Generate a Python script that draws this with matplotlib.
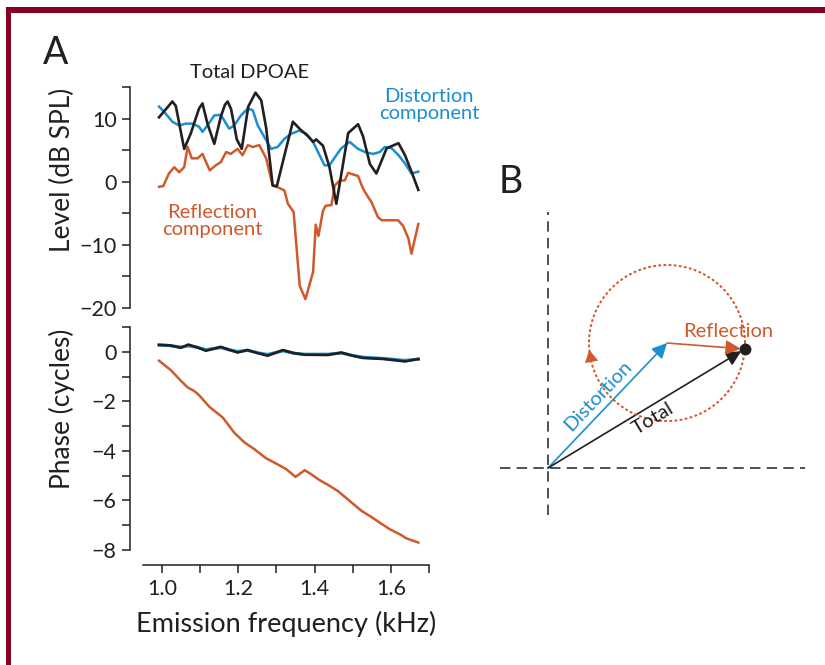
import matplotlib

matplotlib.use("Agg")
import matplotlib.pyplot as plt
import numpy as np
from matplotlib.patches import Rectangle, FancyArrowPatch
from matplotlib.ticker import FixedLocator, FormatStrFormatter

plt.rcParams["font.family"] = ["Lato", "DejaVu Sans"]
plt.rcParams["axes.unicode_minus"] = True
plt.rcParams["lines.scale_dashes"] = False

BLACK = "#231f20"
BLUE = "#1a8ed1"
ORANGE = "#d0592b"
FRAME = "#870024"

# --- panel A: level (dB SPL) vs emission frequency (kHz) ---
f_total = [0.992, 1.027, 1.036, 1.058, 1.075, 1.097, 1.106, 1.119, 1.137, 1.154,
           1.165, 1.172, 1.181, 1.196, 1.209, 1.226, 1.245, 1.260, 1.273, 1.290,
           1.301, 1.321, 1.343, 1.362, 1.383, 1.396, 1.404, 1.422, 1.439, 1.457,
           1.474, 1.488, 1.514, 1.527, 1.545, 1.562, 1.589, 1.620, 1.637, 1.654, 1.672]
lvl_total = [10.2, 12.7, 12.0, 5.2, 7.6, 11.6, 12.4, 9.2, 6.0, 10.3,
             12.2, 12.7, 11.5, 6.7, 5.2, 11.9, 14.1, 12.9, 8.5, -0.6,
             -0.7, 4.2, 9.5, 8.3, 7.2, 6.3, 6.7, 5.7, 2.3, -3.5,
             2.6, 7.7, 9.1, 7.2, 2.8, 1.3, 5.3, 6.1, 4.2, 1.6, -1.3]

f_dist = [0.992, 1.005, 1.027, 1.045, 1.062, 1.080, 1.097, 1.106, 1.119, 1.137,
          1.154, 1.176, 1.189, 1.207, 1.225, 1.238, 1.251, 1.268, 1.286, 1.303,
          1.321, 1.339, 1.360, 1.378, 1.396, 1.413, 1.426, 1.439, 1.457, 1.470,
          1.492, 1.514, 1.532, 1.553, 1.571, 1.584, 1.602, 1.620, 1.637, 1.654, 1.672]
lvl_dist = [11.9, 11.1, 9.5, 8.9, 9.2, 9.2, 8.7, 7.9, 8.9, 10.5,
            10.6, 8.4, 8.9, 10.5, 11.6, 11.3, 8.9, 7.1, 5.2, 5.5,
            6.8, 7.6, 8.1, 7.6, 6.3, 4.2, 2.6, 2.6, 4.2, 5.3,
            6.3, 5.2, 4.7, 4.4, 4.7, 5.5, 5.3, 4.2, 2.9, 1.3, 1.6]

f_refl = [0.992, 1.003, 1.018, 1.032, 1.045, 1.058, 1.067, 1.078, 1.093, 1.106,
          1.125, 1.141, 1.154, 1.168, 1.180, 1.198, 1.211, 1.225, 1.238, 1.255,
          1.273, 1.290, 1.308, 1.321, 1.330, 1.345, 1.361, 1.376, 1.396, 1.403,
          1.410, 1.422, 1.429, 1.444, 1.453, 1.466, 1.479, 1.488, 1.514, 1.527,
          1.540, 1.549, 1.566, 1.576, 1.619, 1.632, 1.646, 1.654, 1.672]
lvl_refl = [-0.8, -0.7, 1.3, 2.3, 1.5, 2.3, 5.5, 3.7, 3.7, 4.4,
            1.8, 2.6, 3.1, 4.7, 4.4, 5.2, 4.2, 5.8, 5.5, 5.8,
            3.7, -0.6, -1.0, -1.4, -3.5, -4.8, -16.5, -18.6, -14.3, -6.8,
            -8.6, -4.6, -3.8, -3.7, -0.6, 0.2, 0.2, 1.4, 0.9, -1.1,
            -2.4, -3.2, -5.6, -6.1, -6.1, -7.0, -9.0, -11.4, -6.7]

# --- panel A: phase (cycles) ---
f_ph = [0.992, 1.020, 1.049, 1.069, 1.092, 1.115, 1.154, 1.176, 1.198, 1.224,
        1.250, 1.277, 1.317, 1.345, 1.374, 1.435, 1.470, 1.500, 1.527, 1.580,
        1.637, 1.672]
ph_total = [0.28, 0.26, 0.16, 0.29, 0.18, 0.04, 0.20, 0.08, -0.03, 0.07,
            -0.05, -0.16, 0.07, -0.05, -0.12, -0.13, -0.03, -0.16, -0.25, -0.29,
            -0.39, -0.29]
ph_dist = [0.27, 0.25, 0.19, 0.24, 0.18, 0.08, 0.17, 0.08, 0.01, 0.06,
           -0.04, -0.11, 0.04, -0.06, -0.10, -0.10, -0.05, -0.15, -0.22, -0.27,
           -0.35, -0.30]

f_ph_refl = [0.992, 1.023, 1.045, 1.067, 1.084, 1.097, 1.124, 1.159, 1.189, 1.216,
             1.242, 1.273, 1.299, 1.326, 1.350, 1.374, 1.391, 1.413, 1.435, 1.461,
             1.492, 1.523, 1.549, 1.571, 1.597, 1.624, 1.641, 1.672]
ph_refl = [-0.36, -0.74, -1.10, -1.44, -1.58, -1.75, -2.22, -2.65, -3.26, -3.66,
           -3.93, -4.30, -4.51, -4.74, -5.05, -4.78, -4.94, -5.18, -5.37, -5.62,
           -6.02, -6.42, -6.67, -6.90, -7.16, -7.37, -7.53, -7.70]

# --- panel B: phasor schematic (amplitude, angle in degrees) ---
dist_amp, dist_ang = 1.0, 46.4
refl_amp, refl_ang = 0.452, -4.4

W, H = 825, 665
fig = plt.figure(figsize=(W / 100, H / 100), dpi=100)


def px_axes(x0, y0, x1, y1):
    return fig.add_axes([x0 / W, 1 - y1 / H, (x1 - x0) / W, (y1 - y0) / H])


# frame
fig.patches.append(Rectangle((7 / W, 1 - 13 / H), 1, 6 / H, transform=fig.transFigure,
                             facecolor=FRAME, edgecolor="none"))
fig.patches.append(Rectangle((6 / W, 0), 4.5 / W, 1 - 7 / H, transform=fig.transFigure,
                             facecolor=FRAME, edgecolor="none"))

ax_lvl = px_axes(143, 87, 429, 308)
ax_ph = px_axes(143, 327, 429, 550)

tick_kw = dict(direction="out", length=6, width=1.1, color=BLACK, labelcolor=BLACK)
for ax in (ax_lvl, ax_ph):
    ax.set_xlim(0.95, 1.7)
    ax.patch.set_alpha(0)
    for s in ("top", "right"):
        ax.spines[s].set_visible(False)
    ax.spines["left"].set_position(("outward", 9.5))
    ax.spines["left"].set_linewidth(1.1)
    ax.spines["left"].set_color(BLACK)
    ax.tick_params(axis="y", which="both", labelsize=15.5, pad=3.5, **tick_kw)

ax_lvl.spines["bottom"].set_visible(False)
ax_lvl.tick_params(axis="x", which="both", bottom=False, labelbottom=False)
ax_lvl.set_ylim(-20, 15)
ax_lvl.yaxis.set_major_locator(FixedLocator([-20, -10, 0, 10]))
ax_lvl.yaxis.set_minor_locator(FixedLocator([-15, -5, 5, 15]))

ax_lvl.plot(f_refl, lvl_refl, color=ORANGE, lw=1.8)
ax_lvl.plot(f_dist, lvl_dist, color=BLUE, lw=1.8)
ax_lvl.plot(f_total, lvl_total, color=BLACK, lw=1.9)

ax_ph.set_ylim(-8, 1)
ax_ph.yaxis.set_major_locator(FixedLocator([-8, -6, -4, -2, 0]))
ax_ph.yaxis.set_minor_locator(FixedLocator([-7, -5, -3, -1, 1]))
ax_ph.xaxis.set_major_locator(FixedLocator([1.0, 1.2, 1.4, 1.6]))
ax_ph.xaxis.set_minor_locator(FixedLocator([1.1, 1.3, 1.5, 1.7]))
ax_ph.xaxis.set_major_formatter(FormatStrFormatter("%.1f"))
ax_ph.spines["bottom"].set_position(("outward", 11))
ax_ph.spines["bottom"].set_linewidth(1.1)
ax_ph.spines["bottom"].set_color(BLACK)
ax_ph.tick_params(axis="x", which="both", labelsize=15.5, pad=4, **tick_kw)

ax_ph.plot(f_ph_refl, ph_refl, color=ORANGE, lw=1.8)
ax_ph.plot(f_ph, ph_dist, color=BLUE, lw=2.3)
ax_ph.plot(f_ph, ph_total, color=BLACK, lw=1.9)

fig.text(62 / W, 1 - 170 / H, "Level (dB SPL)", rotation=90, ha="center", va="center",
         fontsize=19, color=BLACK)
fig.text(62 / W, 1 - 409 / H, "Phase (cycles)", rotation=90, ha="center", va="center",
         fontsize=19, color=BLACK)
fig.text(286 / W, 1 - 624 / H, "Emission frequency (kHz)", ha="center", va="center",
         fontsize=19.5, color=BLACK)

fig.text(250 / W, 1 - 73 / H, "Total DPOAE", ha="center", va="center", fontsize=14.5, color=BLACK)
fig.text(429 / W, 1 - 105 / H, "Distortion\ncomponent", ha="center", va="center",
         fontsize=14.5, color=BLUE, linespacing=0.95)
fig.text(212 / W, 1 - 221 / H, "Reflection\ncomponent", ha="center", va="center",
         fontsize=14.5, color=ORANGE, linespacing=0.95)

fig.text(56 / W, 1 - 53 / H, "A", ha="center", va="center", fontsize=27, color=BLACK)
fig.text(511 / W, 1 - 182 / H, "B", ha="center", va="center", fontsize=27, color=BLACK)

# --- panel B ---
axb = px_axes(500, 212, 805, 515)
axb.set_xlim(-0.278, 1.489)
axb.set_ylim(-0.272, 1.483)
axb.set_aspect("equal")
axb.axis("off")
axb.axhline(0, color=BLACK, lw=1.1, ls=(0, (7.5, 4.5)))
axb.axvline(0, color=BLACK, lw=1.1, ls=(0, (7.5, 4.5)))

d = dist_amp * np.array([np.cos(np.radians(dist_ang)), np.sin(np.radians(dist_ang))])
r = refl_amp * np.array([np.cos(np.radians(refl_ang)), np.sin(np.radians(refl_ang))])
t = d + r

# reflection phasor sweeping around the tip of the distortion phasor
theta = np.linspace(0, 2 * np.pi, 400)
axb.plot(d[0] + refl_amp * np.cos(theta), d[1] + refl_amp * np.sin(theta),
         color=ORANGE, lw=1.4, ls=(0, (2.0, 1.7)))
a0, a1 = np.radians(196), np.radians(185)
p0 = d + refl_amp * np.array([np.cos(a0), np.sin(a0)])
p1 = d + refl_amp * np.array([np.cos(a1), np.sin(a1)])
axb.add_patch(FancyArrowPatch(p0, p1, arrowstyle="-|>,head_length=0.55,head_width=0.3",
                              mutation_scale=16, color=ORANGE, lw=0, shrinkA=0, shrinkB=0))

arrow = "-|>,head_length=0.6,head_width=0.3"
axb.add_patch(FancyArrowPatch((0, 0), tuple(d), arrowstyle=arrow, mutation_scale=15,
                              color=BLUE, lw=1.2, shrinkA=0, shrinkB=0))
axb.add_patch(FancyArrowPatch((0, 0), tuple(t), arrowstyle=arrow, mutation_scale=15,
                              color=BLACK, lw=1.2, shrinkA=0, shrinkB=3))
axb.add_patch(FancyArrowPatch(tuple(d), tuple(t), arrowstyle=arrow, mutation_scale=15,
                              color=ORANGE, lw=1.2, shrinkA=0, shrinkB=3))
axb.plot(t[0], t[1], "o", color=BLACK, ms=7.5, zorder=5)

axb.text(1.043, 0.790, "Reflection", ha="center", va="center", fontsize=14.5, color=ORANGE)
axb.text(0.292, 0.420, "Distortion", rotation=dist_ang, rotation_mode="anchor",
         ha="center", va="center", fontsize=14.5, color=BLUE)
axb.text(0.612, 0.285, "Total", rotation=np.degrees(np.arctan2(t[1], t[0])),
         rotation_mode="anchor", ha="center", va="center", fontsize=14.5, color=BLACK)

fig.savefig("out.png", dpi=100)
